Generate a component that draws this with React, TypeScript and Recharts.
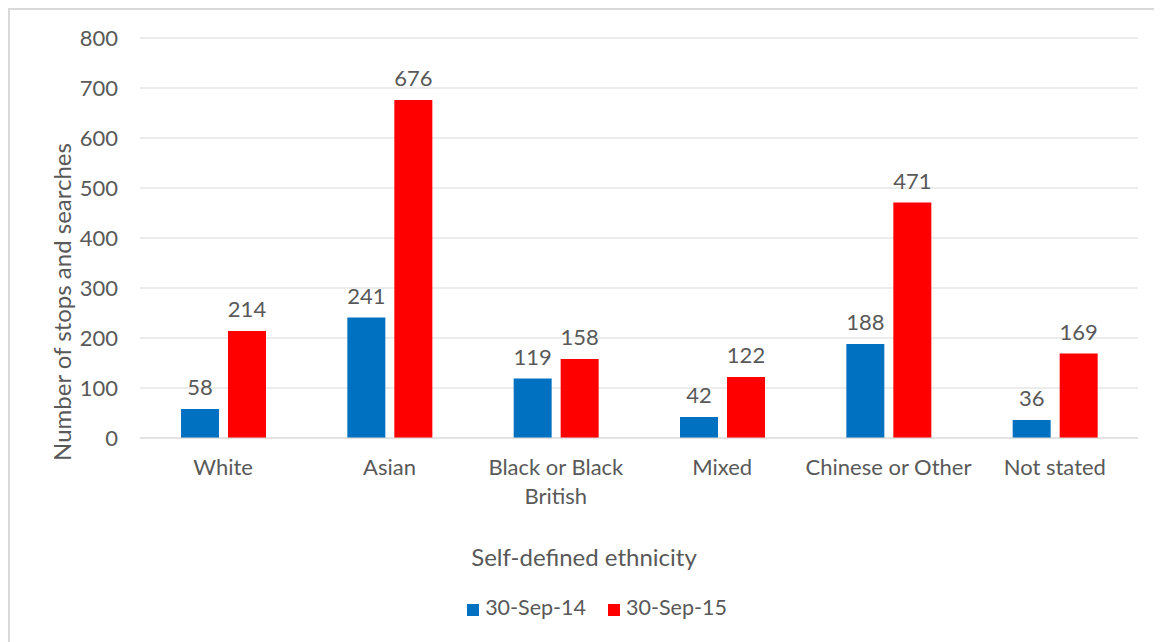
import React from 'react';
import { BarChart, Bar, XAxis, YAxis, CartesianGrid, Legend, LabelList } from 'recharts';

const categories = ['White', 'Asian', 'Black or Black British', 'Mixed', 'Chinese or Other', 'Not stated'];
const sep14 = [58, 241, 119, 42, 188, 36];
const sep15 = [214, 676, 158, 122, 471, 169];
const yTicks = [0, 100, 200, 300, 400, 500, 600, 700, 800];

const data = categories.map((c, i) => ({ name: c, s14: sep14[i], s15: sep15[i] }));

const FONT = 'Lato, "Open Sans", sans-serif';
const GREY = '#595959';

function wrap(text: string, max: number): string[] {
  const words = text.split(' ');
  const lines: string[] = [];
  let cur = '';
  for (const w of words) {
    const next = cur ? cur + ' ' + w : w;
    if (next.length > max && cur) {
      lines.push(cur);
      cur = w;
    } else cur = next;
  }
  if (cur) lines.push(cur);
  return lines;
}

const XTick = (props: any) => {
  const { x, y, payload } = props;
  const lines = wrap(String(payload.value), 16);
  return (
    <text x={x} y={y} textAnchor="middle" fill={GREY} fontSize={22} fontFamily={FONT}>
      {lines.map((l, i) => (
        <tspan key={i} x={x} dy={i === 0 ? 23 : 29}>{l}</tspan>
      ))}
    </text>
  );
};

export default function App() {
  return (
    <div style={{ width: 1160, height: 640, borderLeft: '2px solid #d9d9d9', borderTop: '2px solid #d9d9d9', background: '#fff' }}>
      <BarChart
        width={1160}
        height={640}
        data={data}
        margin={{ top: 28, right: 32, left: 0, bottom: 22 }}
        barSize={38}
        barGap={9}
      >
        <CartesianGrid vertical={false} stroke="#d9d9d9" />
        <XAxis
          dataKey="name"
          height={150}
          tick={<XTick />}
          tickLine={false}
          axisLine={{ stroke: '#d9d9d9' }}
          interval={0}
          tickSize={0}
          tickMargin={14}
          label={{ value: 'Self-defined ethnicity', position: 'insideTop', dy: 106, dx: -55, fill: GREY, fontSize: 24, fontFamily: FONT }}
        />
        <YAxis
          domain={[0, 800]}
          ticks={yTicks}
          width={130}
          axisLine={false}
          tickLine={false}
          tickSize={0}
          tickMargin={22}
          tick={{ fill: GREY, fontSize: 22, fontFamily: FONT }}
          label={{ value: 'Number of stops and searches', angle: -90, position: 'center', dx: -13, dy: 64, fill: GREY, fontSize: 24, fontFamily: FONT }}
        />
        <Legend
          verticalAlign="bottom"
          height={40}
          iconType="square"
          iconSize={12}
          wrapperStyle={{ top: 584, left: 34, fontFamily: FONT, fontSize: 21.5 }}
          formatter={(v: any) => <span style={{ color: GREY, marginLeft: 2, marginRight: 12 }}>{v}</span>}
        />
        <Bar dataKey="s14" name="30-Sep-14" fill="#0070C0" isAnimationActive={false}>
          <LabelList dataKey="s14" position="top" offset={14} fill={GREY} fontSize={22} fontFamily={FONT} />
        </Bar>
        <Bar dataKey="s15" name="30-Sep-15" fill="#FF0000" isAnimationActive={false}>
          <LabelList dataKey="s15" position="top" offset={14} fill={GREY} fontSize={22} fontFamily={FONT} />
        </Bar>
      </BarChart>
    </div>
  );
}
